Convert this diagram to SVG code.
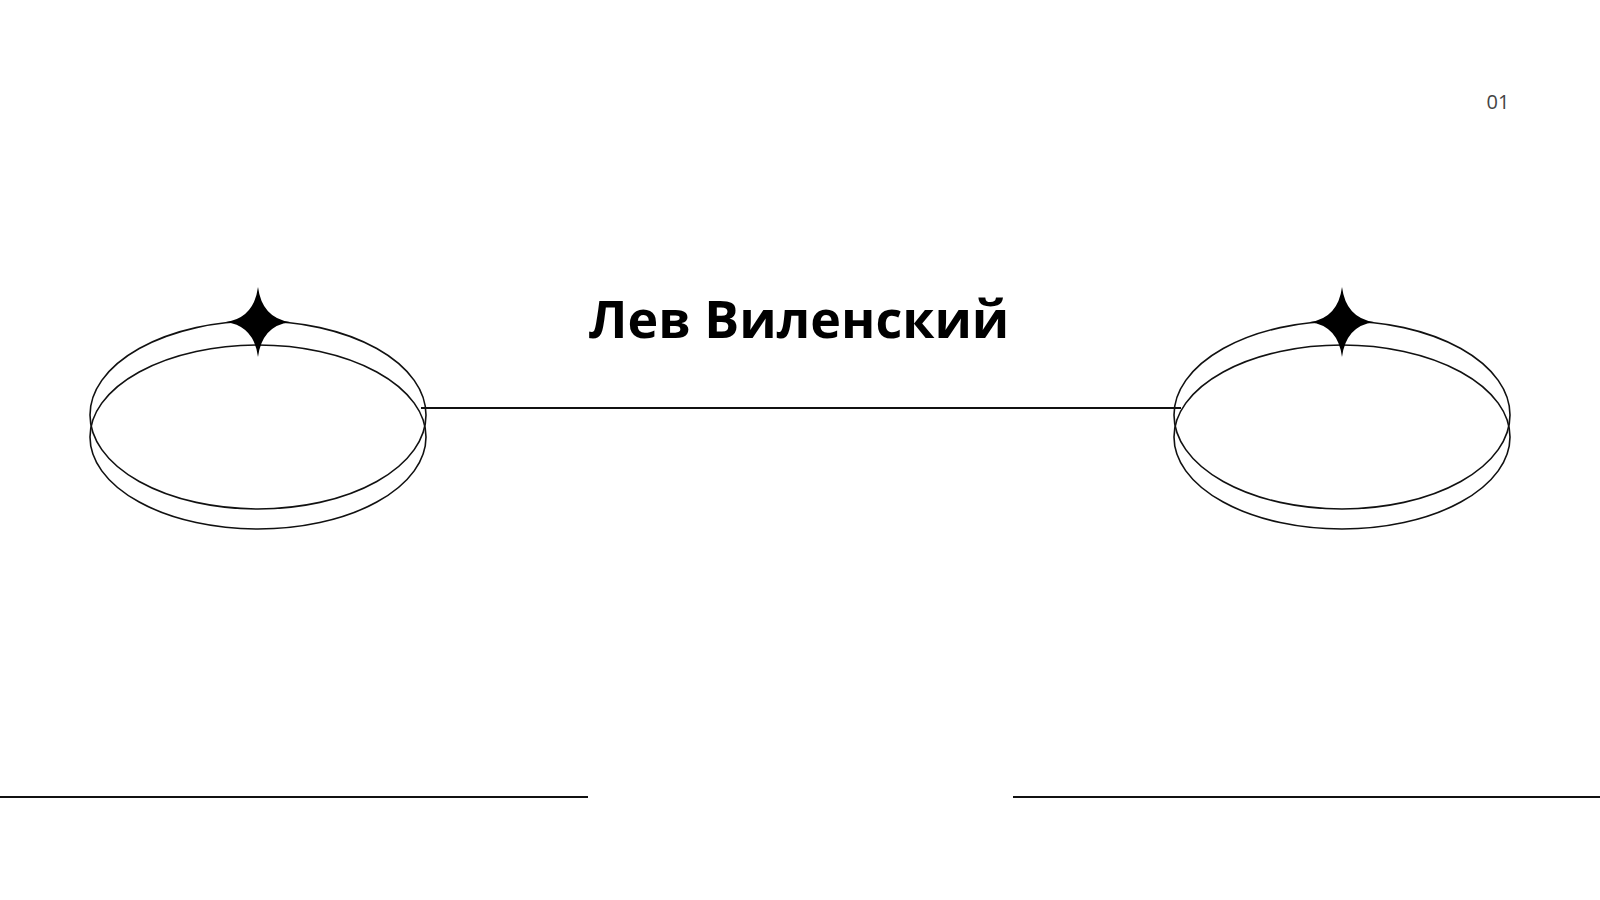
<svg xmlns="http://www.w3.org/2000/svg" width="1600" height="900" viewBox="0 0 1600 900">
<style>
.ring{fill:none;stroke:#111;stroke-width:1.6}
.ln{stroke:#111;stroke-width:1.8}
.star{fill:#000}
</style>
<defs>
<path id="star" d="M0,-35 Q4,-4 32,0 Q4,4 0,35 Q-4,4 -32,0 Q-4,-4 0,-35 Z"/>
</defs>
<rect width="1600" height="900" fill="#fff"/>
<g id="connectors">
<line class="ln" x1="421" y1="408" x2="1181" y2="408"/>
<line class="ln" x1="0" y1="797" x2="588" y2="797"/>
<line class="ln" x1="1013" y1="797" x2="1600" y2="797"/>
</g>
<g id="left-ring">
<ellipse class="ring" cx="258" cy="415" rx="168" ry="94"/>
<ellipse class="ring" cx="258" cy="437" rx="168" ry="92"/>
<use href="#star" class="star" x="258" y="322"/>
</g>
<g id="right-ring">
<ellipse class="ring" cx="1342" cy="415" rx="168" ry="94"/>
<ellipse class="ring" cx="1342" cy="437" rx="168" ry="92"/>
<use href="#star" class="star" x="1342" y="322"/>
</g>
<g id="title">
<text x="799" y="338" text-anchor="middle" font-family="Open Sans, sans-serif" font-weight="700" font-size="52" fill="#000">Лев Виленский</text>
</g>
<g id="page">
<text x="1498" y="109" text-anchor="middle" font-family="Open Sans, sans-serif" font-size="20" fill="#444">01</text>
</g>
</svg>
